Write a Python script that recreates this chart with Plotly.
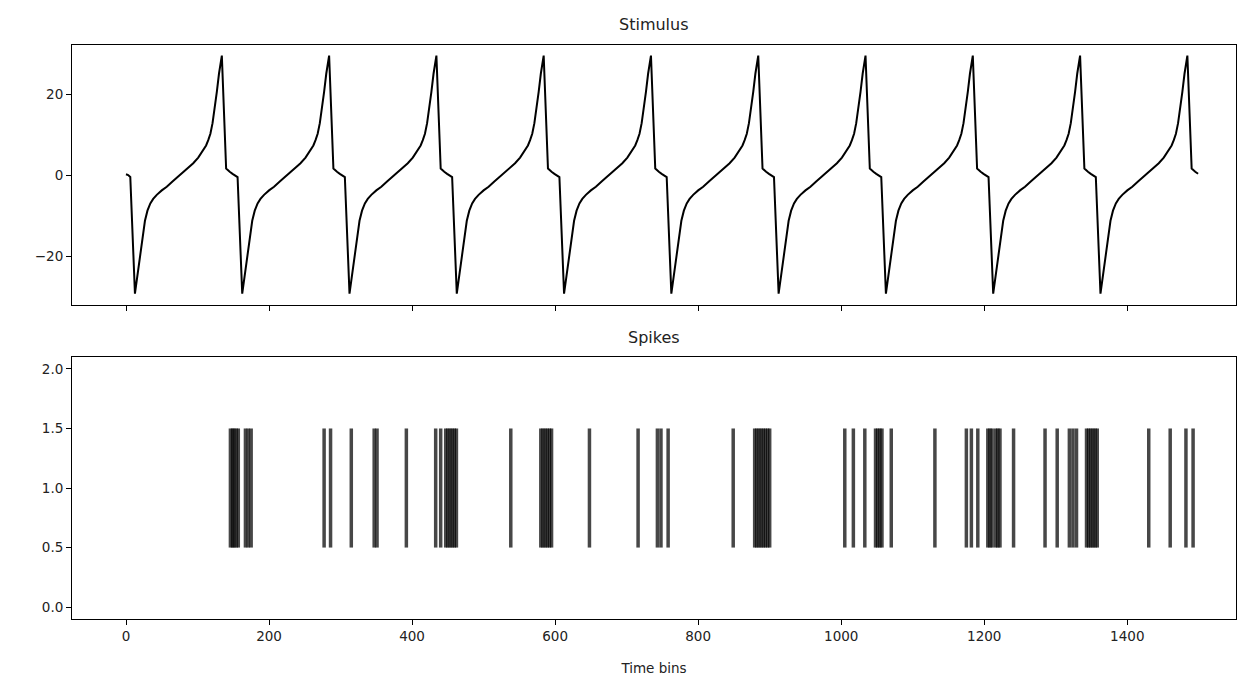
import plotly.graph_objects as go

# ---- Data ----
# One cycle of the stimulus (offset within a 150-bin cycle, value)
cycle_offsets = [0, 3, 6, 12.5, 13.5, 16, 19.5, 23, 26.5, 30, 34, 38, 43, 50, 57, 65,
                 75, 85, 94, 101, 108, 112, 115, 118, 121, 124, 127, 130, 132, 134,
                 140, 142, 145, 149]
cycle_values = [0.2, 0.0, -0.5, -29.3, -28.0, -24.8, -20.2, -15.6, -11.3, -8.8, -7.0,
                -5.9, -4.9, -3.8, -2.9, -1.6, 0.0, 1.5, 2.9, 4.3, 6.1, 7.3, 8.6, 10.2,
                12.8, 16.2, 20.5, 25.0, 27.5, 29.5, 1.6, 1.2, 0.8, 0.3]
cycle_length = 150
n_cycles = 10

spike_times = [146, 149, 151, 154, 157, 167, 171, 175, 277, 286, 315, 347, 351, 392,
               433, 440, 447, 450, 453, 456, 459, 462, 538,
               580, 583, 586, 589, 592, 595, 648, 716, 743, 748, 758, 849,
               879, 882, 885, 888, 891, 894, 897, 900, 1005, 1017, 1033,
               1048, 1051, 1054, 1057, 1070, 1131, 1175, 1182, 1191,
               1205, 1208, 1211, 1216, 1219, 1222, 1241, 1285, 1302,
               1319, 1324, 1329, 1343, 1346, 1349, 1352, 1355, 1358,
               1430, 1460, 1482, 1492]
spike_offset = 1.0
spike_length = 1.0

x_ticks = [0, 200, 400, 600, 800, 1000, 1200, 1400]
stim_ticks = [-20, 0, 20]
spike_ticks = [0.0, 0.5, 1.0, 1.5, 2.0]

# ---- Build series ----
stim_t, stim_v = [], []
for c in range(n_cycles):
    for o, v in zip(cycle_offsets, cycle_values):
        stim_t.append(c * cycle_length + o)
        stim_v.append(v)

fig = go.Figure()
fig.add_trace(go.Scatter(x=stim_t, y=stim_v, mode="lines",
                         line=dict(color="black", width=2),
                         xaxis="x", yaxis="y", showlegend=False))
# one trace per spike so that overlapping translucent lines darken like the reference
for t in spike_times:
    fig.add_trace(go.Scatter(
        x=[t, t],
        y=[spike_offset - spike_length / 2, spike_offset + spike_length / 2],
        mode="lines", line=dict(color="rgba(0,0,0,0.72)", width=3.5),
        xaxis="x2", yaxis="y2", showlegend=False, hoverinfo="x"))

font = dict(family="DejaVu Sans", size=13.5, color="#222")
title_font = dict(family="DejaVu Sans", size=16, color="#222")
axis_common = dict(showline=True, mirror=True, linecolor="black", linewidth=1,
                   ticks="outside", ticklen=5, tickwidth=1, tickcolor="black",
                   showgrid=False, zeroline=False, tickfont=font)
xrange = [-75.5, 1552]

fig.update_layout(
    width=1238, height=683,
    margin=dict(l=72, r=2, t=45, b=64),
    paper_bgcolor="white", plot_bgcolor="white",
    font=font,
    xaxis=dict(domain=[0, 1], range=xrange, anchor="y", tickvals=x_ticks,
               showticklabels=False, **axis_common),
    yaxis=dict(domain=[0.547, 1], range=[-32.1, 32.1], anchor="x",
               tickvals=stim_ticks, **axis_common),
    xaxis2=dict(domain=[0, 1], range=xrange, anchor="y2", tickvals=x_ticks,
                title=dict(text="Time bins", font=font, standoff=20),
                **axis_common),
    yaxis2=dict(domain=[0, 0.4564], range=[-0.1, 2.1], anchor="x2",
                tickvals=spike_ticks, tickformat=".1f", **axis_common),
    annotations=[
        dict(text="Stimulus", x=0.5, y=1, xref="paper", yref="paper",
             yanchor="bottom", yshift=9, showarrow=False, font=title_font),
        dict(text="Spikes", x=0.5, y=0.4564, xref="paper", yref="paper",
             yanchor="bottom", yshift=8, showarrow=False, font=title_font),
    ],
)

fig.write_html("out.html",
               config={"displayModeBar": False},
               post_script="document.body.style.margin='0';"
                           "document.body.style.overflow='hidden';")
